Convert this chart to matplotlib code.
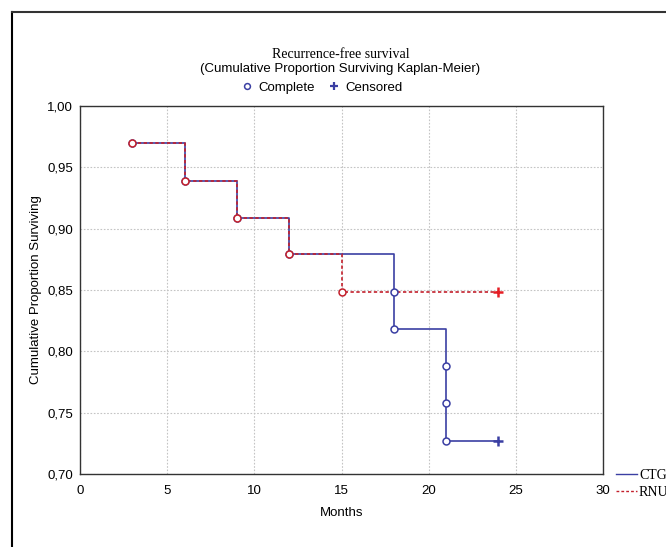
import matplotlib
matplotlib.use("Agg")
import matplotlib.pyplot as plt
from matplotlib.lines import Line2D
from matplotlib.ticker import FuncFormatter

# ---- data ----
ctg_times = [3, 6, 9, 12, 18, 18, 21, 21, 21]
ctg_surv = [0.970, 0.939, 0.909, 0.879, 0.848, 0.818, 0.788, 0.758, 0.727]
ctg_cens_time = [24]
ctg_cens_surv = [0.727]

rnu_times = [3, 6, 9, 12, 15]
rnu_surv = [0.970, 0.939, 0.909, 0.879, 0.848]
rnu_cens_time = [24]
rnu_cens_surv = [0.848]

x_ticks = [0, 5, 10, 15, 20, 25, 30]
y_ticks = [0.70, 0.75, 0.80, 0.85, 0.90, 0.95, 1.00]

BLUE = "#3B3FA3"
RED = "#C3202C"
RED_CENS = "#E51E25"

plt.rcParams['font.family'] = ['Liberation Sans', 'DejaVu Sans']

fig = plt.figure(figsize=(6.66, 5.47), dpi=100)
ax = fig.add_axes([80/666, 1-474/547, (603-80)/666, (474-106)/547])


def step_xy(times, surv, end_t):
    xs, ys = [times[0]], [surv[0]]
    for t, s in zip(times[1:], surv[1:]):
        xs += [t, t]
        ys += [ys[-1], s]
    xs.append(end_t)
    ys.append(ys[-1])
    return xs, ys

cx, cy = step_xy(ctg_times, ctg_surv, ctg_cens_time[0])
rx, ry = step_xy(rnu_times, rnu_surv, rnu_cens_time[0])

ax.plot(cx, cy, color=BLUE, lw=1.2, zorder=3)
ax.plot(rx, ry, color=RED, lw=1.2, ls=(0, (2, 1.5)), zorder=4)
ax.plot(ctg_times, ctg_surv, ls='none', marker='o', ms=5, mfc='white',
        mec=BLUE, mew=1.1, zorder=5)
ax.plot(rnu_times, rnu_surv, ls='none', marker='o', ms=5, mfc='white',
        mec=RED, mew=1.1, zorder=6)
ax.plot(ctg_cens_time, ctg_cens_surv, ls='none', marker='+', ms=7,
        mec=BLUE, mew=1.8, zorder=6)
ax.plot(rnu_cens_time, rnu_cens_surv, ls='none', marker='+', ms=7,
        mec=RED_CENS, mew=1.8, zorder=6)

ax.set_xlim(0, 30)
ax.set_ylim(0.70, 1.00)
ax.set_xticks(x_ticks)
ax.set_yticks(y_ticks)
ax.yaxis.set_major_formatter(FuncFormatter(lambda v, p: f"{v:.2f}".replace('.', ',')))
ax.tick_params(labelsize=9.5, length=0)
ax.tick_params(axis='y', pad=5)
ax.tick_params(axis='x', pad=8)
ax.grid(True, color='#C4C4C4', ls=(0, (1.5, 1.5)), lw=0.8)
for s in ax.spines.values():
    s.set_color('#333333')
    s.set_linewidth(1.0)
ax.set_xlabel("Months", fontsize=9.5, labelpad=7)
ax.set_ylabel("Cumulative Proportion Surviving", fontsize=9.5, labelpad=3.5)

fig.text(0.511, 1-54/547, "Recurrence-free survival", ha='center', va='center',
         fontsize=10, family='Liberation Serif')
fig.text(0.511, 1-69/547, "(Cumulative Proportion Surviving Kaplan-Meier)",
         ha='center', va='center', fontsize=9.5)

h1 = Line2D([], [], ls='none', marker='o', ms=4.2, mfc='white', mec=BLUE, mew=1.1)
h2 = Line2D([], [], ls='none', marker='+', ms=6, mec=BLUE, mew=1.6)
fig.legend([h1, h2], ["Complete", "Censored"], loc='center',
           bbox_to_anchor=(0.484, 1-88/547), ncol=2, frameon=False,
           fontsize=9.5, handlelength=0.8, handletextpad=0.5, columnspacing=1.0)

h3 = Line2D([], [], color=BLUE, lw=1.0)
h4 = Line2D([], [], color=RED, lw=1.0, ls=(0, (2, 1.5)))
fig.legend([h3, h4], ["CTG", "RNU"], loc='upper left',
           bbox_to_anchor=(616/666, 1-469/547), frameon=False,
           prop={'family': 'Liberation Serif', 'size': 10},
           handlelength=1.5, handletextpad=0.15, labelspacing=0.3,
           borderaxespad=0, borderpad=0)

# figure frame (left and top edges visible)
fig.add_artist(Line2D([12/666, 12/666], [0, 1-12/547], color='black', lw=1.5,
                      transform=fig.transFigure))
fig.add_artist(Line2D([12/666, 1], [1-12/547, 1-12/547], color='#333333', lw=1.5,
                      transform=fig.transFigure))

fig.savefig("out.png", dpi=100)
